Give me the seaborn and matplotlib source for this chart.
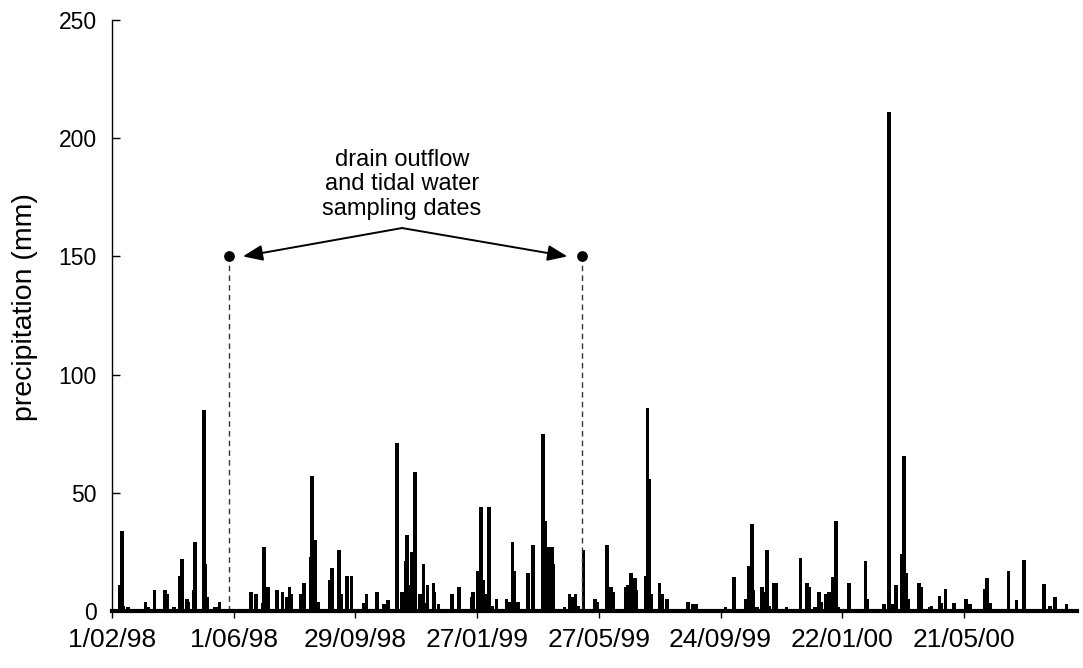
import numpy as np
import pandas as pd
import matplotlib
matplotlib.use("Agg")
import matplotlib.pyplot as plt
import seaborn as sns

# ---------------- data ----------------
start_date = "1/02/98"
rain_day = [8, 10, 11, 16, 27, 33, 36, 42, 52, 54, 61, 67, 69, 74, 75, 81, 82, 91, 92, 94,
            101, 103, 106, 137, 142, 149, 150, 154, 157, 163, 168, 172, 175, 177, 186, 189,
            196, 197, 200, 203, 208, 215, 217, 224, 226, 232, 236, 246, 248, 251, 261, 268,
            272, 281, 286, 290, 291, 294, 296, 299, 304, 307, 309, 311, 317, 318, 322, 335,
            342, 346, 355, 356, 361, 364, 366, 369, 372, 375, 379, 384, 389, 392, 395, 397,
            400, 410, 415, 425, 427, 430, 434, 435, 446, 451, 454, 457, 460, 465, 476, 478,
            488, 492, 494, 507, 509, 512, 516, 517, 526, 528, 530, 532, 540, 542, 547, 552,
            568, 573, 576, 605, 613, 625, 628, 631, 632, 636, 641, 644, 646, 648, 653, 655,
            660, 665, 679, 685, 687, 693, 697, 699, 704, 707, 711, 714, 716, 727, 743, 745,
            761, 766, 770, 773, 779, 781, 783, 785, 791, 796, 798, 806, 808, 816, 818, 822,
            830, 842, 846, 856, 861, 863, 866, 880, 884, 892, 899, 906, 915, 919, 925, 930, 941]
rain_mm = [11, 34, 2, 1.5, 1, 4, 1.5, 9, 9, 7, 1.5, 15, 22, 5, 4, 9, 29, 85, 20, 6,
           1.5, 1.5, 4, 8, 7, 3.5, 27, 10, 1, 9, 8, 6, 10, 7, 7, 12,
           23, 57, 30, 4, 1, 13, 18, 26, 7, 15, 15, 1, 3.5, 7, 8, 3,
           4.5, 71, 8, 21, 32, 11, 25, 59, 7, 20, 3.5, 11, 12, 8, 3, 7,
           10, 1, 6, 8, 17, 44, 13, 7, 44, 2, 5, 1, 5, 4, 29, 17,
           4, 16, 28, 75, 38, 27, 27, 20, 1.5, 7, 6, 7, 2, 26, 5, 4,
           28, 10, 8, 10, 11, 16, 14, 9, 15, 86, 56, 7, 12, 7, 5, 1,
           4, 3, 3, 1.5, 14.5, 5, 19, 37, 9, 1.5, 10, 8, 26, 2, 12, 12,
           1, 1.5, 22.5, 12, 10, 1.5, 8, 4, 7, 8, 14.5, 38, 1.5, 12, 21, 5,
           3, 211, 3, 11, 24, 65.5, 16, 5, 1, 12, 10, 1.5, 2, 6.5, 3.5, 9.5,
           3.5, 5, 3, 1, 9.5, 14, 3.5, 1, 17, 4.5, 21.5, 1, 1, 11.5, 2, 6, 3]
tick_labels = ["1/02/98", "1/06/98", "29/09/98", "27/01/99",
               "27/05/99", "24/09/99", "22/01/00", "21/05/00"]
sampling_dates = ["27/05/98", "10/05/99"]
sampling_level = 150
annotation_text = "drain outflow\nand tidal water\nsampling dates"

# ---------------- derived ----------------
t0 = pd.to_datetime(start_date, dayfirst=True, format="%d/%m/%y")
df = pd.DataFrame({"day": rain_day, "mm": rain_mm})
tick_pos = [(pd.to_datetime(s, format="%d/%m/%y") - t0).days for s in tick_labels]
samp_pos = [(pd.to_datetime(s, format="%d/%m/%y") - t0).days for s in sampling_dates]

sns.set_theme(style="ticks")
plt.rcParams["font.family"] = ["Liberation Sans", "DejaVu Sans"]

fig = plt.figure(figsize=(10.83, 6.68), dpi=100)
ax = fig.add_axes([112 / 1083, 1 - 611 / 668, 965 / 1083, 591 / 668])

sns.barplot(data=df, x="day", y="mm", native_scale=True, width=3.6,
            color="black", saturation=1, linewidth=0, errorbar=None, ax=ax)

ax.set_xlim(0, 951.5)
ax.set_ylim(0, 250)

# sampling markers
for d in samp_pos:
    ax.plot([d, d], [0, sampling_level], color="#333333", lw=1.0,
            dashes=(4, 3), zorder=1)
sns.scatterplot(x=samp_pos, y=[sampling_level] * len(samp_pos), color="black",
                s=60, edgecolor="black", linewidth=0, ax=ax, zorder=5, legend=False)

text_x = (samp_pos[0] + samp_pos[1]) / 2 - 3
ax.text(text_x, 180.5, annotation_text, ha="center", va="center",
        fontsize=17, color="black", linespacing=1.13)
for d, off in zip(samp_pos, [14, -14]):
    ax.annotate("", xy=(d + off, sampling_level), xytext=(text_x, 162),
                arrowprops=dict(arrowstyle="-|>,head_length=1.0,head_width=0.4",
                                color="black", lw=1.4, shrinkA=0, shrinkB=0))

# axes styling
ax.set_xticks(tick_pos)
ax.set_xticklabels(tick_labels)
ax.set_yticks(np.arange(0, 251, 50))
ax.set_xlabel("")
ax.set_ylabel("precipitation (mm)", fontsize=20.5, color="black")
ax.yaxis.set_label_coords(-0.077, 0.514)
ax.tick_params(axis="x", direction="out", length=5, width=1, pad=7,
               labelsize=19, colors="black")
ax.tick_params(axis="y", direction="in", length=6, width=1, pad=11,
               labelsize=16.5, colors="black")
for s in ["top", "right"]:
    ax.spines[s].set_visible(False)
ax.spines["left"].set_color("black")
ax.spines["left"].set_linewidth(1)
ax.spines["bottom"].set_color("black")
ax.spines["bottom"].set_linewidth(3)
ax.set_facecolor("white")
fig.patch.set_facecolor("white")

fig.savefig("out.png", dpi=100)
